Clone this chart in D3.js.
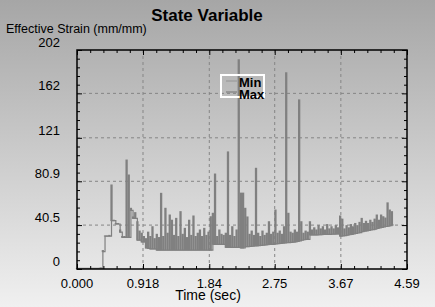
<!DOCTYPE html>
<html>
<head>
<meta charset="utf-8">
<script src="https://cdn.jsdelivr.net/npm/d3@7"></script>
<style>
  body { margin: 0; }
  text { font-family: "Liberation Sans", Arial, sans-serif; }
</style>
</head>
<body>
<div id="chart"></div>
<script>
// tick labels as printed on the chart
var xTicks = [0, 0.918, 1.84, 2.75, 3.67, 4.59];
var xTickLabels = ["0.000", "0.918", "1.84", "2.75", "3.67", "4.59"];
var yTicks = [0, 40.5, 80.9, 121, 162, 202];
var yTickLabels = ["0", "40.5", "80.9", "121", "162", "202"];

var seriesNames = ["Min", "Max"];

var timeSec = [0,
  0.30,0.33,0.36,0.39,0.42,0.45,0.48,0.51,0.54,0.57,
  0.60,0.63,0.66,0.69,0.72,0.75,0.78,0.81,0.84,0.87,
  0.90,0.93,0.96,0.99,1.02,1.05,1.08,1.11,1.14,1.17,
  1.20,1.23,1.26,1.29,1.32,1.35,1.38,1.41,1.44,1.47,
  1.50,1.53,1.56,1.59,1.62,1.65,1.68,1.71,1.74,1.77,
  1.80,1.83,1.86,1.89,1.92,1.95,1.98,2.01,2.04,2.07,
  2.10,2.13,2.16,2.19,2.22,2.25,2.28,2.31,2.34,2.37,
  2.40,2.43,2.46,2.49,2.52,2.55,2.58,2.61,2.64,2.67,
  2.70,2.73,2.76,2.79,2.82,2.85,2.88,2.91,2.94,2.97,
  3.00,3.03,3.06,3.09,3.12,3.15,3.18,3.21,3.24,3.27,
  3.30,3.33,3.36,3.39,3.42,3.45,3.48,3.51,3.54,3.57,
  3.60,3.63,3.66,3.69,3.72,3.75,3.78,3.81,3.84,3.87,
  3.90,3.93,3.96,3.99,4.02,4.05,4.08,4.11,4.14,4.17,
  4.20,4.23,4.26,4.29,4.32,4.35,4.38,4.39];

var minStrain = [0.5,
  0.5,0.5,16,30.4,30.4,30.4,44.6,44.6,41.5,41.5,
  34,29.2,29.2,29.2,29.2,54,46.7,46.7,26.7,26.7,
  25,25,19.4,19,18.5,18.5,18.5,17.5,17.5,17.5,
  17.5,17.5,17.5,17.5,17.5,17.5,17.5,17.5,17.5,17.5,
  17.5,17.5,17.5,17.5,17.5,17.5,17.5,17.5,17.5,17.5,
  17.5,17.5,17.5,22.8,22.8,22.8,22.8,22.8,22.8,20,
  20,20,20,20,20,20,19.4,19.4,20.6,20.6,
  20.8,21,21.2,21.4,21.6,21.8,22,22.2,22.4,22.6,
  22.8,23,23.2,23.4,23.6,23.8,24,24.2,24.4,24.6,
  24.8,25,25.5,26,26.5,27,27.4,27.4,31.4,31.4,
  31.4,31.4,31.6,31.6,31.8,31.8,32,32,32.2,32.2,
  32.3,32.3,30.4,30.6,30.8,31.2,31.6,32,32.4,32.8,
  33.2,33.6,34.4,34.8,35.2,35.6,36,36.4,36.8,37.5,
  38,38.4,38.8,39.2,39.6,40,40.6,40.6];

var maxStrain = [0.5,
  0.5,1,17,30.4,30.4,31,77.5,45,42,42,
  36,30,30,100.5,86.7,56,48,52,43.6,35,
  33,30,28,34,30,39,28,32,29,69.8,
  30,56,33,49.8,45,31,46.7,30,52.9,32,
  37.5,29,45,31,48.9,30,33,36,30,37.5,
  31,34,48.2,51.4,87.6,30,36,32,31,33,
  108,31,39,30,36,193,70,70,56,48,
  32,35,31,92.9,33,30,35,31,33,43.6,
  32,34,54.4,33,35,32,39,181,51.4,34,
  33,36,34,156,43.6,33,35,34,43.6,36,
  38,36,40,37,39,36,41,37,39,37,
  40,38,48.9,46,37,40,38,41,39,42,
  40,43,46.7,42,44,42,45,43,46,49.8,
  45,49.8,48.2,47,61,54.4,52.9,40.6];

var width = 435, height = 307;
var plot = {left: 77, right: 407, top: 50, bottom: 269};

var svg = d3.select("#chart").append("svg")
    .attr("width", width)
    .attr("height", height);

// grey background fade
var grad = svg.append("defs").append("linearGradient")
    .attr("id", "bg")
    .attr("x1", 0).attr("y1", 0).attr("x2", 0).attr("y2", 1);
grad.append("stop").attr("offset", "0%").attr("stop-color", "#a6a6a6");
grad.append("stop").attr("offset", "100%").attr("stop-color", "#f0f0f0");

svg.append("rect")
    .attr("width", width)
    .attr("height", height)
    .attr("fill", "url(#bg)");

var x = d3.scaleLinear()
    .domain([0, 4.59])
    .range([plot.left, plot.right]);
var y = d3.scaleLinear()
    .domain([0, 202])
    .range([plot.bottom, plot.top]);

// minor tick positions: 5 steps between majors
function minorTicks(majors) {
  var arr = [];
  for (var i = 0; i < majors.length - 1; i++) {
    for (var k = 1; k < 5; k++) {
      arr.push(majors[i] + (majors[i + 1] - majors[i]) * k / 5);
    }
  }
  return arr;
}
var xMinor = minorTicks(xTicks);
var yMinor = minorTicks(yTicks);

// dashed grid
svg.append("g").selectAll("line")
    .data(xTicks.slice(1, -1))
    .enter().append("line")
    .attr("x1", function(d) { return x(d); })
    .attr("x2", function(d) { return x(d); })
    .attr("y1", plot.top)
    .attr("y2", plot.bottom)
    .attr("stroke", "#858585")
    .attr("stroke-dasharray", "3,3");
svg.append("g").selectAll("line")
    .data(yTicks.slice(1, -1))
    .enter().append("line")
    .attr("y1", function(d) { return y(d); })
    .attr("y2", function(d) { return y(d); })
    .attr("x1", plot.left)
    .attr("x2", plot.right)
    .attr("stroke", "#858585")
    .attr("stroke-dasharray", "3,3");

// trace: the signal swings between min and max at every sample
var traceColor = "#808080";
var samples = timeSec.map(function(t, i) {
  return {t: t, lo: minStrain[i], hi: maxStrain[i]};
});

svg.append("g").selectAll("line")
    .data(samples)
    .enter().append("line")
    .attr("x1", function(d) { return x(d.t); })
    .attr("x2", function(d) { return x(d.t); })
    .attr("y1", function(d) { return y(d.lo) + 0.5; })
    .attr("y2", function(d) { return y(d.hi) - 0.5; })
    .attr("stroke", traceColor)
    .attr("stroke-width", 2.3);

var minLine = d3.line()
    .curve(d3.curveStepAfter)
    .x(function(d) { return x(d.t); })
    .y(function(d) { return y(d.lo); });

svg.append("path")
    .datum(samples)
    .attr("d", minLine)
    .attr("fill", "none")
    .attr("stroke", traceColor)
    .attr("stroke-width", 1.2);

// inward ticks on all four sides
function tickAxis(axis, values, size, transform) {
  svg.append("g")
      .attr("transform", transform)
      .call(axis.tickValues(values).tickSize(size).tickFormat(""))
      .call(function(g) { g.select(".domain").remove(); })
      .selectAll("line").attr("stroke", "#000");
}
tickAxis(d3.axisTop(x), xTicks, 5, "translate(0," + plot.bottom + ")");
tickAxis(d3.axisTop(x), xMinor, 3, "translate(0," + plot.bottom + ")");
tickAxis(d3.axisBottom(x), xTicks, 5, "translate(0," + plot.top + ")");
tickAxis(d3.axisBottom(x), xMinor, 3, "translate(0," + plot.top + ")");
tickAxis(d3.axisRight(y), yTicks, 5, "translate(" + plot.left + ",0)");
tickAxis(d3.axisRight(y), yMinor, 3, "translate(" + plot.left + ",0)");
tickAxis(d3.axisLeft(y), yTicks, 5, "translate(" + plot.right + ",0)");
tickAxis(d3.axisLeft(y), yMinor, 3, "translate(" + plot.right + ",0)");

// frame
svg.append("rect")
    .attr("x", plot.left)
    .attr("y", plot.top)
    .attr("width", plot.right - plot.left)
    .attr("height", plot.bottom - plot.top)
    .attr("fill", "none")
    .attr("stroke", "#000")
    .attr("stroke-width", 1.5);

// tick labels
svg.append("g").selectAll("text")
    .data(yTicks)
    .enter().append("text")
    .attr("x", 60)
    .attr("y", function(d) { return y(d) - 3; })
    .attr("text-anchor", "end")
    .style("font-size", "13px")
    .text(function(d, i) { return yTickLabels[i]; });

svg.append("g").selectAll("text")
    .data(xTicks)
    .enter().append("text")
    .attr("x", function(d) { return x(d); })
    .attr("y", 287.5)
    .attr("text-anchor", "middle")
    .style("font-size", "13px")
    .text(function(d, i) { return xTickLabels[i]; });

// titles
svg.append("text")
    .attr("x", 207)
    .attr("y", 20.5)
    .attr("text-anchor", "middle")
    .style("font-size", "17px")
    .style("font-weight", "bold")
    .text("State Variable");

svg.append("text")
    .attr("x", 6)
    .attr("y", 33)
    .style("font-size", "12.5px")
    .text("Effective Strain (mm/mm)");

svg.append("text")
    .attr("x", 208)
    .attr("y", 300)
    .attr("text-anchor", "middle")
    .style("font-size", "14px")
    .text("Time (sec)");

// legend
var legend = svg.append("g").attr("transform", "translate(221,75)");
legend.append("rect")
    .attr("width", 43)
    .attr("height", 22)
    .attr("fill", "none")
    .attr("stroke", "#fff")
    .attr("stroke-width", 2);
var legendColors = ["#9a9a9a", "#7f7f7f"];
seriesNames.forEach(function(name, i) {
  legend.append("line")
      .attr("x1", 5).attr("x2", 16)
      .attr("y1", 6 + i * 11).attr("y2", 6 + i * 11)
      .attr("stroke", legendColors[i])
      .attr("stroke-width", 1.2);
  legend.append("text")
      .attr("x", 18)
      .attr("y", 12 + i * 11.5)
      .style("font-size", "13px")
      .style("font-weight", "bold")
      .text(name);
});
</script>
</body>
</html>
